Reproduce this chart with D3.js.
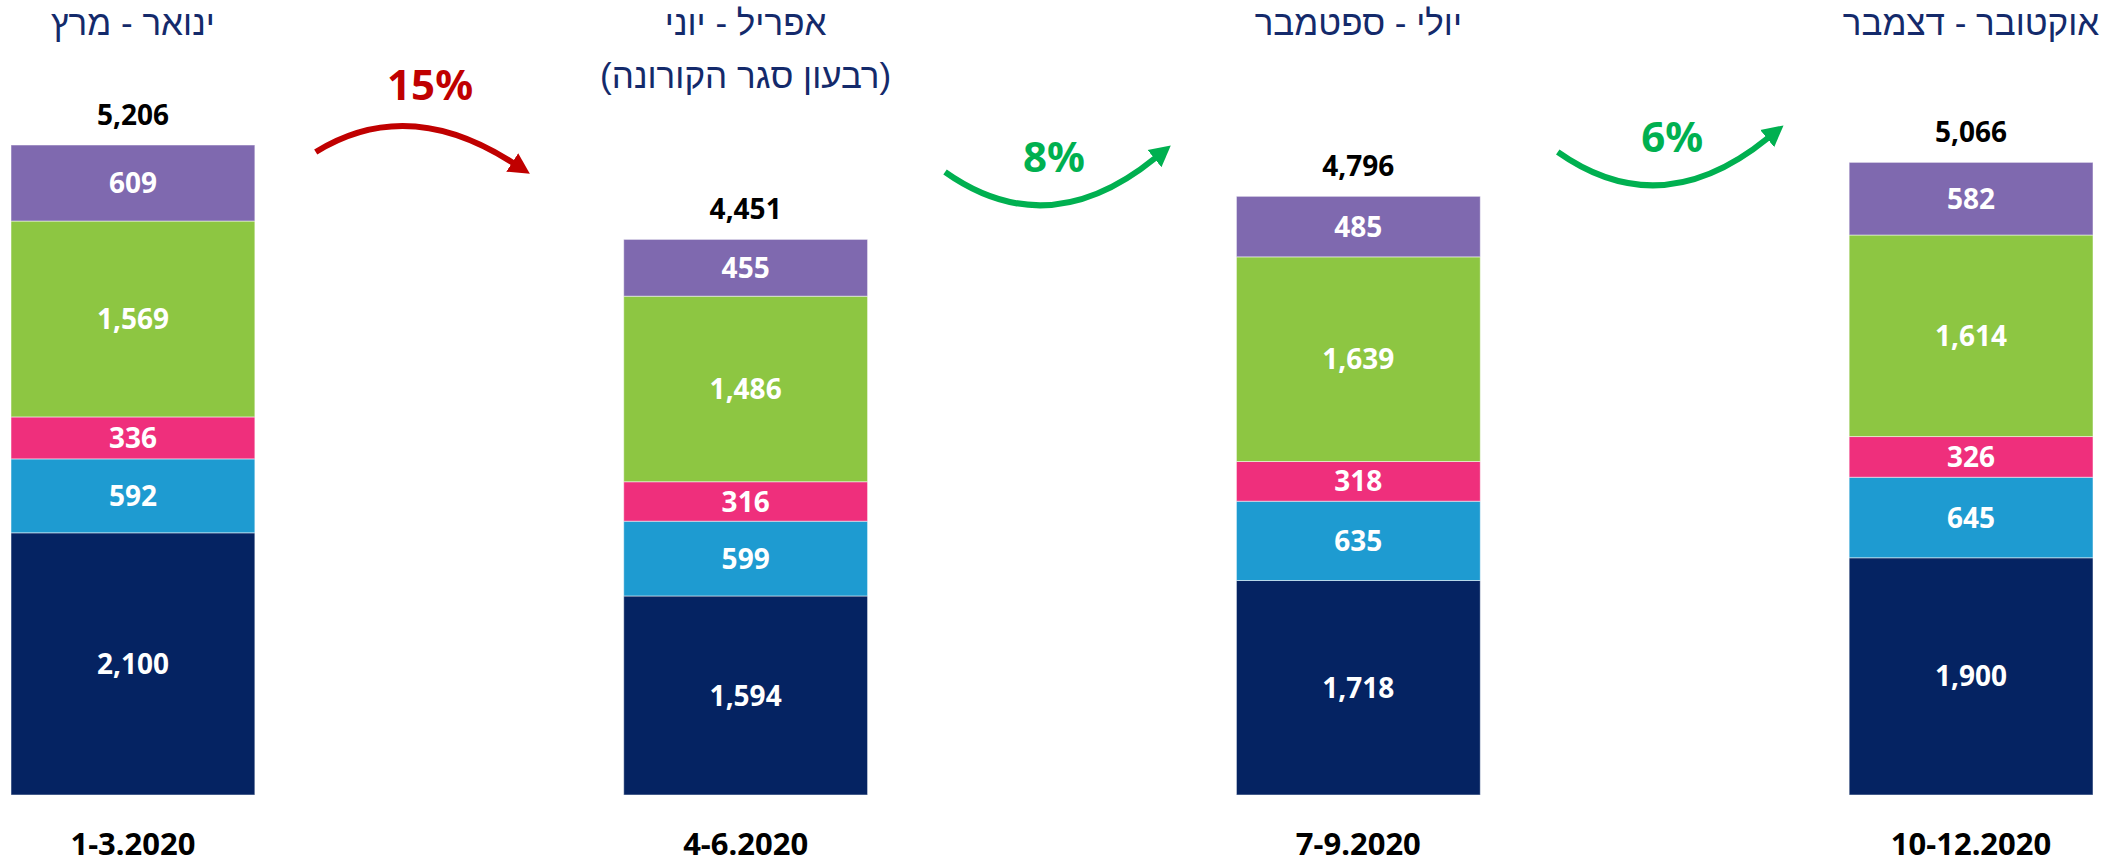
<!DOCTYPE html>
<html>
<head>
<meta charset="utf-8">
<script src="https://cdn.jsdelivr.net/npm/d3@7"></script>
<style>
  body { margin: 0; background: #fff; }
  svg { display: block; }
</style>
</head>
<body>
<div id="vis"></div>
<script>
// data (segments listed bottom to top)
const quarters = ['1-3.2020', '4-6.2020', '7-9.2020', '10-12.2020']
const headers = [
  ['ינואר - מרץ'],
  ['אפריל - יוני', '(רבעון סגר הקורונה)'],
  ['יולי - ספטמבר'],
  ['אוקטובר - דצמבר']
]
const seriesKeys = ['navy', 'blue', 'pink', 'green', 'purple']
const navyVals = [2100, 1594, 1718, 1900]
const blueVals = [592, 599, 635, 645]
const pinkVals = [336, 316, 318, 326]
const greenVals = [1569, 1486, 1639, 1614]
const purpleVals = [609, 455, 485, 582]
const totals = [5206, 4451, 4796, 5066]
const changes = ['15%', '8%', '6%']
const changeDir = ['down', 'up', 'up']

let width = 2102, height = 864

let rows = quarters.map((q, i) => ({
  q: q,
  navy: navyVals[i],
  blue: blueVals[i],
  pink: pinkVals[i],
  green: greenVals[i],
  purple: purpleVals[i]
}))

let colors = {
  navy: '#052362',
  blue: '#1e9bd1',
  pink: '#ef2f7c',
  green: '#8dc642',
  purple: '#7f69af'
}

let svg = d3.select('#vis')
  .append('svg')
  .attr('width', width)
  .attr('height', height)

let xScale = d3.scaleBand()
  .domain(quarters)
  .range([11, 2093])
  .paddingInner(0.602)
  .paddingOuter(0)

let yScale = d3.scaleLinear()
  .domain([0, 5206])
  .range([795, 145])

let stacked = d3.stack().keys(seriesKeys)(rows)

// bars
let layers = svg.selectAll('.layer')
  .data(stacked)
  .join('g')
  .attr('class', 'layer')
  .attr('fill', d => colors[d.key])

layers.selectAll('rect')
  .data(d => d)
  .join('rect')
  .attr('x', d => xScale(d.data.q))
  .attr('y', d => yScale(d[1]))
  .attr('width', xScale.bandwidth())
  .attr('height', d => yScale(d[0]) - yScale(d[1]))
  .attr('stroke', '#ffffff')
  .attr('stroke-opacity', 0.5)
  .attr('stroke-width', 1)

// segment labels
layers.selectAll('text')
  .data(d => d)
  .join('text')
  .attr('x', d => xScale(d.data.q) + xScale.bandwidth() / 2)
  .attr('y', d => (yScale(d[0]) + yScale(d[1])) / 2)
  .attr('dy', '0.36em')
  .attr('text-anchor', 'middle')
  .attr('fill', '#fff')
  .style('font-family', 'Noto Sans, sans-serif')
  .style('font-weight', 'bold')
  .style('font-size', '28px')
  .text(d => d3.format(',')(d[1] - d[0]))

// totals
svg.selectAll('.total')
  .data(quarters)
  .join('text')
  .attr('class', 'total')
  .attr('x', d => xScale(d) + xScale.bandwidth() / 2)
  .attr('y', (d, i) => yScale(d3.sum(seriesKeys, k => rows[i][k])) - 20)
  .attr('text-anchor', 'middle')
  .attr('fill', '#000')
  .style('font-family', 'Noto Sans, sans-serif')
  .style('font-weight', 'bold')
  .style('font-size', '28px')
  .text((d, i) => d3.format(',')(totals[i]))

// x labels
svg.selectAll('.qlabel')
  .data(quarters)
  .join('text')
  .attr('class', 'qlabel')
  .attr('x', d => xScale(d) + xScale.bandwidth() / 2)
  .attr('y', 855)
  .attr('text-anchor', 'middle')
  .attr('fill', '#000')
  .style('font-family', 'Noto Sans, sans-serif')
  .style('font-weight', 'bold')
  .style('font-size', '31px')
  .text(d => d)

// hebrew headers
let heads = svg.selectAll('.head')
  .data(quarters)
  .join('text')
  .attr('class', 'head')
  .attr('direction', 'rtl')
  .attr('text-anchor', 'middle')
  .attr('fill', '#142a6b')
  .style('font-family', 'Liberation Sans, sans-serif')
  .style('font-size', '35px')

heads.selectAll('tspan')
  .data((d, i) => headers[i].map(t => ({ q: d, t: t })))
  .join('tspan')
  .attr('x', d => xScale(d.q) + xScale.bandwidth() / 2)
  .attr('y', (d, j) => 35 + j * 53)
  .text(d => d.t)

// change arrows between quarters
let defs = svg.append('defs')
;['#c00000', '#00b050'].forEach((c, i) => {
  defs.append('marker')
    .attr('id', 'head' + i)
    .attr('markerUnits', 'userSpaceOnUse')
    .attr('markerWidth', 24)
    .attr('markerHeight', 26)
    .attr('viewBox', '0 -13 24 26')
    .attr('refX', 1)
    .attr('refY', 0)
    .attr('orient', 'auto')
    .append('path')
    .attr('d', 'M0,-11 L21,0 L0,11 Z')
    .attr('fill', c)
})

changes.forEach((txt, i) => {
  let x0 = xScale(quarters[i]) + xScale.bandwidth()
  let x1 = xScale(quarters[i + 1])
  let gap = x1 - x0
  let down = changeDir[i] === 'down'
  let color = down ? '#c00000' : '#00b050'
  let p = d3.path()
  if (down) {
    p.moveTo(x0 + gap * 0.165, 152)
    p.quadraticCurveTo(x0 + gap * 0.415, 95, x0 + gap * 0.7, 163)
  } else {
    let yOff = i === 1 ? 0 : -20
    p.moveTo(x0 + gap * 0.21, 172 + yOff)
    p.quadraticCurveTo(x0 + gap * 0.49, 245 + yOff, x0 + gap * 0.78, 158 + yOff)
  }
  svg.append('path')
    .attr('d', p.toString())
    .attr('fill', 'none')
    .attr('stroke', color)
    .attr('stroke-width', 6)
    .attr('marker-end', `url(#head${down ? 0 : 1})`)

  let tx = down ? x0 + gap * 0.475 : x0 + gap * (i === 1 ? 0.505 : 0.52)
  let ty = down ? 100 : (i === 1 ? 172 : 152)
  svg.append('text')
    .attr('x', tx)
    .attr('y', ty)
    .attr('text-anchor', 'middle')
    .attr('fill', color)
    .style('font-family', 'Noto Sans, sans-serif')
    .style('font-weight', 'bold')
    .style('font-size', '42px')
    .text(txt)
})
</script>
</body>
</html>
